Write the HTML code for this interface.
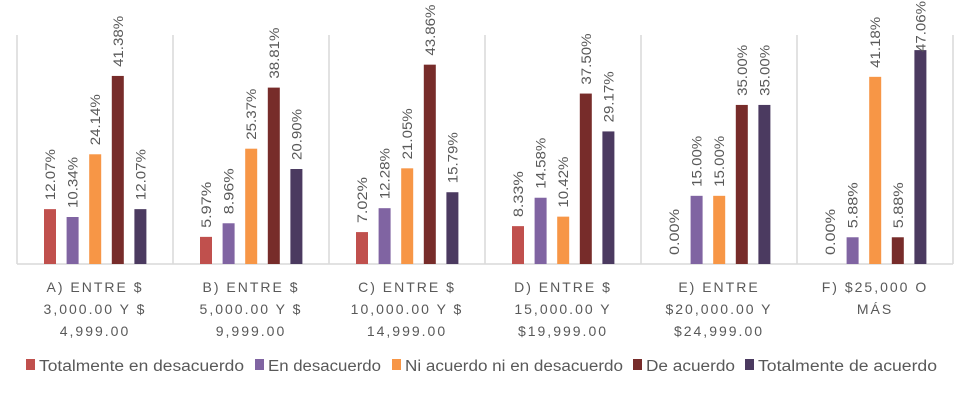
<!DOCTYPE html>
<html><head><meta charset="utf-8"><style>
body{margin:0;background:#fff;}
svg text{font-family:"Liberation Sans",sans-serif;fill:#595959;}
</style></head><body>
<svg id="c" width="979" height="404" xmlns="http://www.w3.org/2000/svg"></svg>
<script>
const categories=[["A) ENTRE $","3,000.00 Y $","4,999.00"],["B) ENTRE $","5,000.00 Y $","9,999.00"],["C) ENTRE $","10,000.00 Y $","14,999.00"],["D) ENTRE $","15,000.00 Y","$19,999.00"],["E) ENTRE","$20,000.00 Y","$24,999.00"],["F) $25,000 O","MÁS"]];
const seriesNames=["Totalmente en desacuerdo","En desacuerdo","Ni acuerdo ni en desacuerdo","De acuerdo","Totalmente de acuerdo"];
const seriesColors=["#c0504d","#8064a2","#f79646","#772c2a","#4b3a60"];
const s1=[12.07,5.97,7.02,8.33,0.00,0.00];
const s2=[10.34,8.96,12.28,14.58,15.00,5.88];
const s3=[24.14,25.37,21.05,10.42,15.00,41.18];
const s4=[41.38,38.81,43.86,37.50,35.00,5.88];
const s5=[12.07,20.90,15.79,29.17,35.00,47.06];
const series=[s1,s2,s3,s4,s5];
const legendX=[26,255,392,633,745];
const legendW=[205,113,218,89,179];

const svg=document.getElementById('c');const NS="http://www.w3.org/2000/svg";
function mk(t,a,p){const e=document.createElementNS(NS,t);for(const k in a)e.setAttribute(k,a[k]);(p||svg).appendChild(e);return e;}
const x0=17,gw=156,base=264,pxPer=4.545;
function y(v){return base-v*pxPer;}
function gx(i){return x0+i*gw;}
for(let i=0;i<=categories.length;i++){
  const l=mk('line',{x1:gx(i),x2:gx(i),y1:35,y2:base,stroke:'#d9d9d9','stroke-width':1.5});
  
  
}
const ax=mk('line',{x1:x0,x2:gx(categories.length),y1:base,y2:base,stroke:'#d9d9d9','stroke-width':1.5});


categories.forEach((cat,i)=>{
  series.forEach((s,j)=>{
    const v=s[i];const bx=gx(i)+27+j*22.6;
    const r=mk('rect',{x:bx,y:y(v),width:12,height:v*pxPer,fill:seriesColors[j]});
    
    
    const str=v.toFixed(2)+'%';
    const len=str.length>5?51:46;
    const ty=Math.max(y(v)-9,len+1);
    const t=mk('text',{transform:`translate(${bx+11},${ty}) rotate(-90)`,'font-size':14,textLength:len,lengthAdjust:'spacingAndGlyphs'});
    t.textContent=str;
    
    
  });
  cat.forEach((ln,k)=>{
    const t=mk('text',{x:gx(i)+gw/2,y:292+k*22,'text-anchor':'middle','font-size':14,'letter-spacing':'2'});
    t.textContent=ln;
    
    
  });
});
seriesNames.forEach((n,j)=>{
  const g=mk('g',{});
  
  
  mk('rect',{x:legendX[j],y:359,width:9,height:11,fill:seriesColors[j]},g);
  const t=mk('text',{x:legendX[j]+13,y:371,'font-size':15.5,textLength:legendW[j],lengthAdjust:'spacingAndGlyphs'},g);
  t.textContent=n;
});
</script>
</body></html>
